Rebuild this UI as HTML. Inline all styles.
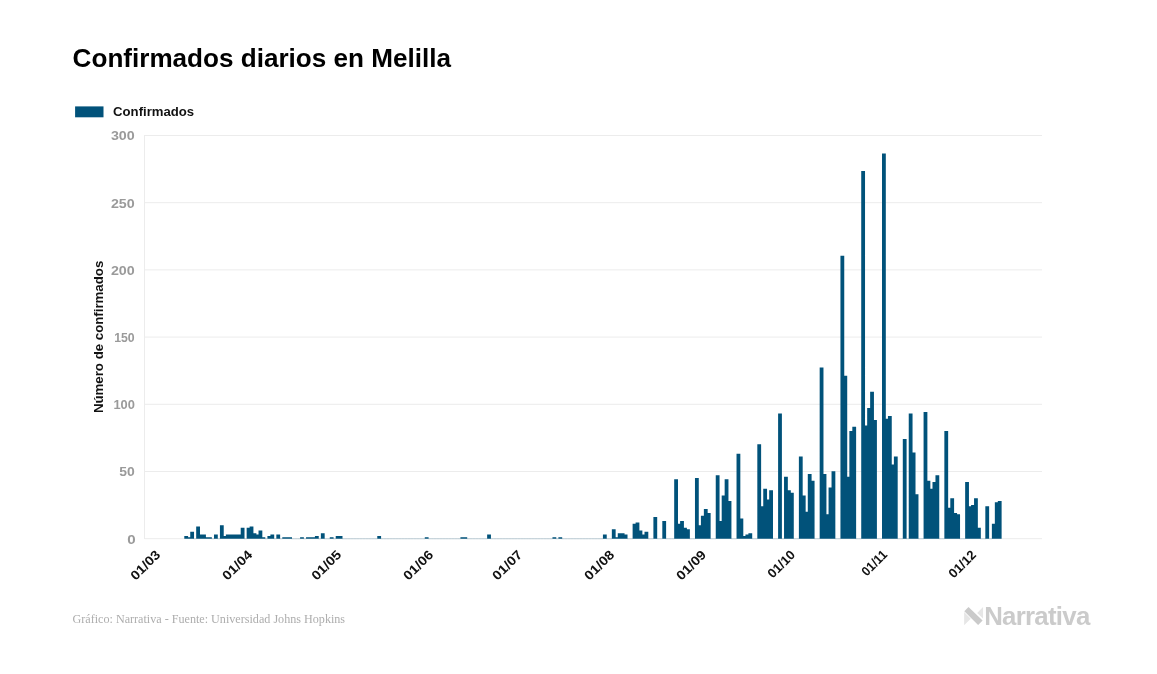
<!DOCTYPE html>
<html lang="es">
<head>
<meta charset="utf-8">
<title>Confirmados diarios en Melilla</title>
<style>
html,body{margin:0;padding:0;background:#fff;}
body{width:1157px;height:674px;overflow:hidden;font-family:"Liberation Sans",sans-serif;}
svg{display:block;}
.title{font:bold 26.1px "Liberation Sans",sans-serif;fill:#000;}
.legend{font:bold 13.15px "Liberation Sans",sans-serif;fill:#111;}
.ylab text{font:bold 12.2px "Liberation Sans",sans-serif;fill:#9a9a9a;}
.xlab text{font:bold 13px "Liberation Sans",sans-serif;fill:#111;}
.ytitle{font:bold 13.25px "Liberation Sans",sans-serif;fill:#111;}
.src{font:12.8px "Liberation Serif",serif;fill:#adadad;}
.logo{font:bold 25.8px "Liberation Sans",sans-serif;fill:#cbcbcb;letter-spacing:-0.72px;}
.grid line{stroke:#ececec;stroke-width:1;}
.bars path{fill:#01527a;}
.bars path.z{fill:#01527a;opacity:0.22;}
</style>
</head>
<body>
<svg width="1157" height="674" viewBox="0 0 1157 674">
<rect width="1157" height="674" fill="#ffffff"/>
<text class="title" x="72.6" y="67">Confirmados diarios en Melilla</text>
<rect x="75.1" y="106.4" width="28.4" height="10.9" fill="#01527a"/>
<text class="legend" x="113.1" y="116.1">Confirmados</text>
<g class="grid">
<line x1="144.5" x2="1042" y1="538.70" y2="538.70"/>
<line x1="144.5" x2="1042" y1="471.50" y2="471.50"/>
<line x1="144.5" x2="1042" y1="404.30" y2="404.30"/>
<line x1="144.5" x2="1042" y1="337.10" y2="337.10"/>
<line x1="144.5" x2="1042" y1="269.90" y2="269.90"/>
<line x1="144.5" x2="1042" y1="202.70" y2="202.70"/>
<line x1="144.5" x2="1042" y1="135.50" y2="135.50"/>
<line x1="144.5" x2="144.5" y1="135" y2="539"/>
</g>
<g class="ylab">
<text x="127.15" y="543.65" textLength="8.40" lengthAdjust="spacingAndGlyphs">0</text>
<text x="119.20" y="476.45" textLength="15.50" lengthAdjust="spacingAndGlyphs">50</text>
<text x="113.45" y="409.25" textLength="21.50" lengthAdjust="spacingAndGlyphs">100</text>
<text x="114.20" y="342.05" textLength="20.50" lengthAdjust="spacingAndGlyphs">150</text>
<text x="110.90" y="274.85" textLength="23.80" lengthAdjust="spacingAndGlyphs">200</text>
<text x="110.90" y="207.65" textLength="23.80" lengthAdjust="spacingAndGlyphs">250</text>
<text x="110.90" y="140.45" textLength="23.80" lengthAdjust="spacingAndGlyphs">300</text>
</g>
<text class="ytitle" transform="translate(102.5,336.9) rotate(-90)" text-anchor="middle">Número de confirmados</text>
<g class="bars">
<path d="M184.30 538.70V535.91H187.27H188.10V537.25H190.24V531.87H191.07H194.04V538.70H196.18V526.48H199.14H199.98V534.56H202.11H202.94H205.08H205.91V537.25H208.05H208.88H211.85V538.70H213.99V534.56H217.79V538.70H219.93V525.13H222.90H223.73V535.91H225.87V534.56H226.70H228.83H229.67H231.80H232.63H234.77H235.60H237.74H238.57H240.71V527.83H241.54H244.51V538.70H246.65V527.83H249.62V526.48H250.45H252.59H253.42V533.21H255.56H256.39V534.56H258.52V530.52H259.36H261.49H262.32V537.25H265.29V538.70H267.43V535.91H270.40V534.56H271.23H274.20V538.70H276.34V534.56H280.14V538.70H282.28V537.25H285.25H286.08H288.22H289.05H292.02V538.70H300.09V537.25H303.89V538.70H306.03V537.25H309.00H309.83H311.97H312.80H314.94V535.91H315.77H318.74V538.70H320.87V533.21H324.67V538.70H329.78V537.25H333.58V538.70H335.72V535.91H338.69H339.52H342.49V538.70H377.28V535.91H381.08V538.70H424.79V537.25H428.59V538.70H460.42V537.25H463.39H464.22H467.19V538.70H487.14V534.56H490.94V538.70H552.46V537.25H556.26V538.70H558.39V537.25H562.19V538.70H602.93V534.56H606.73V538.70H611.84V529.17H614.80H615.64V537.25H617.77V533.21H618.60H620.74H621.57H623.71H624.54V534.56H627.51V538.70H632.62V523.79H635.59V522.44H636.42H638.56H639.39V530.52H641.53H642.36V534.56H644.50V531.87H645.33H648.30V538.70H653.40V517.06H657.20V538.70H662.31V521.10H666.11V538.70H674.19V479.35H677.15H677.99V523.79H680.12V521.10H680.95H683.09H683.92V527.83H686.06H686.89V529.17H689.86V538.70H694.97V478.01H697.94H698.77V525.13H700.91V515.71H701.74H703.87V508.98H704.71H706.84H707.67V513.02H710.64V538.70H715.75V475.31H718.72H719.55V521.10H721.69V495.51H722.52H724.66V479.35H725.49H727.63H728.46V500.90H731.43V538.70H736.53V453.77H739.50H740.33V518.40H742.47H743.30V535.91H745.44V534.56H746.27H748.41V533.21H749.24H752.21V538.70H757.32V444.35H760.29H761.12V506.28H763.25V488.78H764.09H766.22H767.05V499.55H769.19V490.13H770.02H772.99V538.70H778.10V413.38H781.90V538.70H784.04V476.66H787.01H787.84V490.13H789.98H790.81V492.82H793.78V538.70H798.88V456.46H801.85H802.68V495.51H804.82H805.65V511.67H807.79V473.97H808.62H810.76H811.59V480.70H814.56V538.70H819.67V367.59H822.63H823.47V473.97H825.60H826.43V514.36H828.57V487.43H829.40H831.54V471.28H832.37H835.34V538.70H840.45V255.84H843.42H844.25V375.67H846.39H847.22V476.66H849.36V430.88H850.19H852.32V426.84H853.16H856.12V538.70H861.23V171.01H864.20H865.03V425.49H867.17V407.99H868.00H870.14V391.83H870.97H873.11H873.94V420.11H876.91V538.70H882.01V153.50H884.98H885.81V418.76H887.95V416.07H888.78H890.92H891.75V464.54H893.89V456.46H894.72H897.69V538.70H902.80V438.96H906.60V538.70H908.74V413.38H911.71H912.54V452.42H914.67H915.51V494.17H918.47V538.70H923.58V412.03H926.55H927.38V480.70H929.52H930.35V488.78H932.49V482.05H933.32H935.46V475.31H936.29H939.26V538.70H944.36V430.88H947.33H948.16V507.63H950.30V498.21H951.13H953.27H954.10V513.02H956.24H957.07V514.36H960.04V538.70H965.15V482.05H968.12H968.95V506.28H971.08V504.94H971.92H974.05V498.21H974.88H977.02H977.85V527.83H980.82V538.70H985.33V506.28H989.13V538.70H991.87V523.79H994.84V502.24H995.67H997.81V500.90H998.64H1001.61V538.70Z"/>
<path class="z" d="M193.51 538.25h2.90v0.9h-2.90zM211.32 538.25h2.90v0.9h-2.90zM217.26 538.25h2.90v0.9h-2.90zM243.98 538.25h2.90v0.9h-2.90zM264.76 538.25h2.90v0.9h-2.90zM273.67 538.25h2.90v0.9h-2.90zM279.61 538.25h2.90v0.9h-2.90zM291.48 538.25h2.90v0.9h-2.90zM294.45 538.25h2.90v0.9h-2.90zM297.42 538.25h2.90v0.9h-2.90zM303.36 538.25h2.90v0.9h-2.90zM318.20 538.25h2.90v0.9h-2.90zM324.14 538.25h2.90v0.9h-2.90zM327.11 538.25h2.90v0.9h-2.90zM333.05 538.25h2.90v0.9h-2.90zM341.96 538.25h2.90v0.9h-2.90zM344.93 538.25h2.90v0.9h-2.90zM347.90 538.25h2.90v0.9h-2.90zM350.86 538.25h2.90v0.9h-2.90zM353.83 538.25h2.90v0.9h-2.90zM356.80 538.25h2.90v0.9h-2.90zM359.77 538.25h2.90v0.9h-2.90zM362.74 538.25h2.90v0.9h-2.90zM365.71 538.25h2.90v0.9h-2.90zM368.68 538.25h2.90v0.9h-2.90zM371.65 538.25h2.90v0.9h-2.90zM374.62 538.25h2.90v0.9h-2.90zM380.55 538.25h2.90v0.9h-2.90zM383.52 538.25h2.90v0.9h-2.90zM386.49 538.25h2.90v0.9h-2.90zM389.46 538.25h2.90v0.9h-2.90zM392.43 538.25h2.90v0.9h-2.90zM395.40 538.25h2.90v0.9h-2.90zM398.37 538.25h2.90v0.9h-2.90zM401.34 538.25h2.90v0.9h-2.90zM404.31 538.25h2.90v0.9h-2.90zM407.28 538.25h2.90v0.9h-2.90zM410.24 538.25h2.90v0.9h-2.90zM413.21 538.25h2.90v0.9h-2.90zM416.18 538.25h2.90v0.9h-2.90zM419.15 538.25h2.90v0.9h-2.90zM422.12 538.25h2.90v0.9h-2.90zM428.06 538.25h2.90v0.9h-2.90zM431.03 538.25h2.90v0.9h-2.90zM434.00 538.25h2.90v0.9h-2.90zM436.96 538.25h2.90v0.9h-2.90zM439.93 538.25h2.90v0.9h-2.90zM442.90 538.25h2.90v0.9h-2.90zM445.87 538.25h2.90v0.9h-2.90zM448.84 538.25h2.90v0.9h-2.90zM451.81 538.25h2.90v0.9h-2.90zM454.78 538.25h2.90v0.9h-2.90zM457.75 538.25h2.90v0.9h-2.90zM466.66 538.25h2.90v0.9h-2.90zM469.62 538.25h2.90v0.9h-2.90zM472.59 538.25h2.90v0.9h-2.90zM475.56 538.25h2.90v0.9h-2.90zM478.53 538.25h2.90v0.9h-2.90zM481.50 538.25h2.90v0.9h-2.90zM484.47 538.25h2.90v0.9h-2.90zM490.41 538.25h2.90v0.9h-2.90zM493.38 538.25h2.90v0.9h-2.90zM496.35 538.25h2.90v0.9h-2.90zM499.31 538.25h2.90v0.9h-2.90zM502.28 538.25h2.90v0.9h-2.90zM505.25 538.25h2.90v0.9h-2.90zM508.22 538.25h2.90v0.9h-2.90zM511.19 538.25h2.90v0.9h-2.90zM514.16 538.25h2.90v0.9h-2.90zM517.13 538.25h2.90v0.9h-2.90zM520.10 538.25h2.90v0.9h-2.90zM523.07 538.25h2.90v0.9h-2.90zM526.03 538.25h2.90v0.9h-2.90zM529.00 538.25h2.90v0.9h-2.90zM531.97 538.25h2.90v0.9h-2.90zM534.94 538.25h2.90v0.9h-2.90zM537.91 538.25h2.90v0.9h-2.90zM540.88 538.25h2.90v0.9h-2.90zM543.85 538.25h2.90v0.9h-2.90zM546.82 538.25h2.90v0.9h-2.90zM549.79 538.25h2.90v0.9h-2.90zM555.73 538.25h2.90v0.9h-2.90zM561.66 538.25h2.90v0.9h-2.90zM564.63 538.25h2.90v0.9h-2.90zM567.60 538.25h2.90v0.9h-2.90zM570.57 538.25h2.90v0.9h-2.90zM573.54 538.25h2.90v0.9h-2.90zM576.51 538.25h2.90v0.9h-2.90zM579.48 538.25h2.90v0.9h-2.90zM582.45 538.25h2.90v0.9h-2.90zM585.41 538.25h2.90v0.9h-2.90zM588.38 538.25h2.90v0.9h-2.90zM591.35 538.25h2.90v0.9h-2.90zM594.32 538.25h2.90v0.9h-2.90zM597.29 538.25h2.90v0.9h-2.90zM600.26 538.25h2.90v0.9h-2.90zM606.20 538.25h2.90v0.9h-2.90zM609.17 538.25h2.90v0.9h-2.90zM626.98 538.25h2.90v0.9h-2.90zM629.95 538.25h2.90v0.9h-2.90zM647.76 538.25h2.90v0.9h-2.90zM650.73 538.25h2.90v0.9h-2.90zM656.67 538.25h2.90v0.9h-2.90zM659.64 538.25h2.90v0.9h-2.90zM665.58 538.25h2.90v0.9h-2.90zM668.55 538.25h2.90v0.9h-2.90zM671.52 538.25h2.90v0.9h-2.90zM689.33 538.25h2.90v0.9h-2.90zM692.30 538.25h2.90v0.9h-2.90zM710.11 538.25h2.90v0.9h-2.90zM713.08 538.25h2.90v0.9h-2.90zM730.90 538.25h2.90v0.9h-2.90zM733.86 538.25h2.90v0.9h-2.90zM751.68 538.25h2.90v0.9h-2.90zM754.65 538.25h2.90v0.9h-2.90zM772.46 538.25h2.90v0.9h-2.90zM775.43 538.25h2.90v0.9h-2.90zM781.37 538.25h2.90v0.9h-2.90zM793.25 538.25h2.90v0.9h-2.90zM796.21 538.25h2.90v0.9h-2.90zM814.03 538.25h2.90v0.9h-2.90zM817.00 538.25h2.90v0.9h-2.90zM834.81 538.25h2.90v0.9h-2.90zM837.78 538.25h2.90v0.9h-2.90zM855.59 538.25h2.90v0.9h-2.90zM858.56 538.25h2.90v0.9h-2.90zM876.38 538.25h2.90v0.9h-2.90zM879.35 538.25h2.90v0.9h-2.90zM897.16 538.25h2.90v0.9h-2.90zM900.13 538.25h2.90v0.9h-2.90zM906.07 538.25h2.90v0.9h-2.90zM917.94 538.25h2.90v0.9h-2.90zM920.91 538.25h2.90v0.9h-2.90zM938.73 538.25h2.90v0.9h-2.90zM941.69 538.25h2.90v0.9h-2.90zM959.51 538.25h2.90v0.9h-2.90zM962.48 538.25h2.90v0.9h-2.90zM980.29 538.25h2.90v0.9h-2.90zM983.26 538.25h2.90v0.9h-2.90zM989.20 538.25h2.90v0.9h-2.90z"/>
</g>
<g class="xlab">
<text transform="translate(161.10,555.5) rotate(-45)" x="-36.0" textLength="36.0" lengthAdjust="spacingAndGlyphs">01/03</text>
<text transform="translate(253.08,555.5) rotate(-45)" x="-36.0" textLength="36.0" lengthAdjust="spacingAndGlyphs">01/04</text>
<text transform="translate(342.09,555.5) rotate(-45)" x="-36.0" textLength="36.0" lengthAdjust="spacingAndGlyphs">01/05</text>
<text transform="translate(434.06,555.5) rotate(-45)" x="-36.0" textLength="36.0" lengthAdjust="spacingAndGlyphs">01/06</text>
<text transform="translate(523.07,555.5) rotate(-45)" x="-36.0" textLength="36.0" lengthAdjust="spacingAndGlyphs">01/07</text>
<text transform="translate(615.05,555.5) rotate(-45)" x="-36.0" textLength="36.0" lengthAdjust="spacingAndGlyphs">01/08</text>
<text transform="translate(707.03,555.5) rotate(-45)" x="-36.0" textLength="36.0" lengthAdjust="spacingAndGlyphs">01/09</text>
<text transform="translate(796.04,555.5) rotate(-45)" x="-33.0" textLength="33.0" lengthAdjust="spacingAndGlyphs">01/10</text>
<text transform="translate(888.01,555.5) rotate(-45)" x="-30.0" textLength="30.0" lengthAdjust="spacingAndGlyphs">01/11</text>
<text transform="translate(977.03,555.5) rotate(-45)" x="-33.0" textLength="33.0" lengthAdjust="spacingAndGlyphs">01/12</text>
</g>
<text class="src" x="72.5" y="623" textLength="272.6" lengthAdjust="spacingAndGlyphs">Gráfico: Narrativa - Fuente: Universidad Johns Hopkins</text>
<g>
<polygon points="964.1,612 964.1,625.3 970.7,618.7" fill="#e6e6e6"/>
<polygon points="983.05,607.1 983.05,618.4 977.2,613.0" fill="#e6e6e6"/>
<polygon points="968.5,607.1 964.3,611.3 978.1,625.1 982.6,620.4" fill="#cacaca"/>
<text class="logo" x="984.2" y="625.3">Narrativa</text>
</g>
</svg>
</body>
</html>
